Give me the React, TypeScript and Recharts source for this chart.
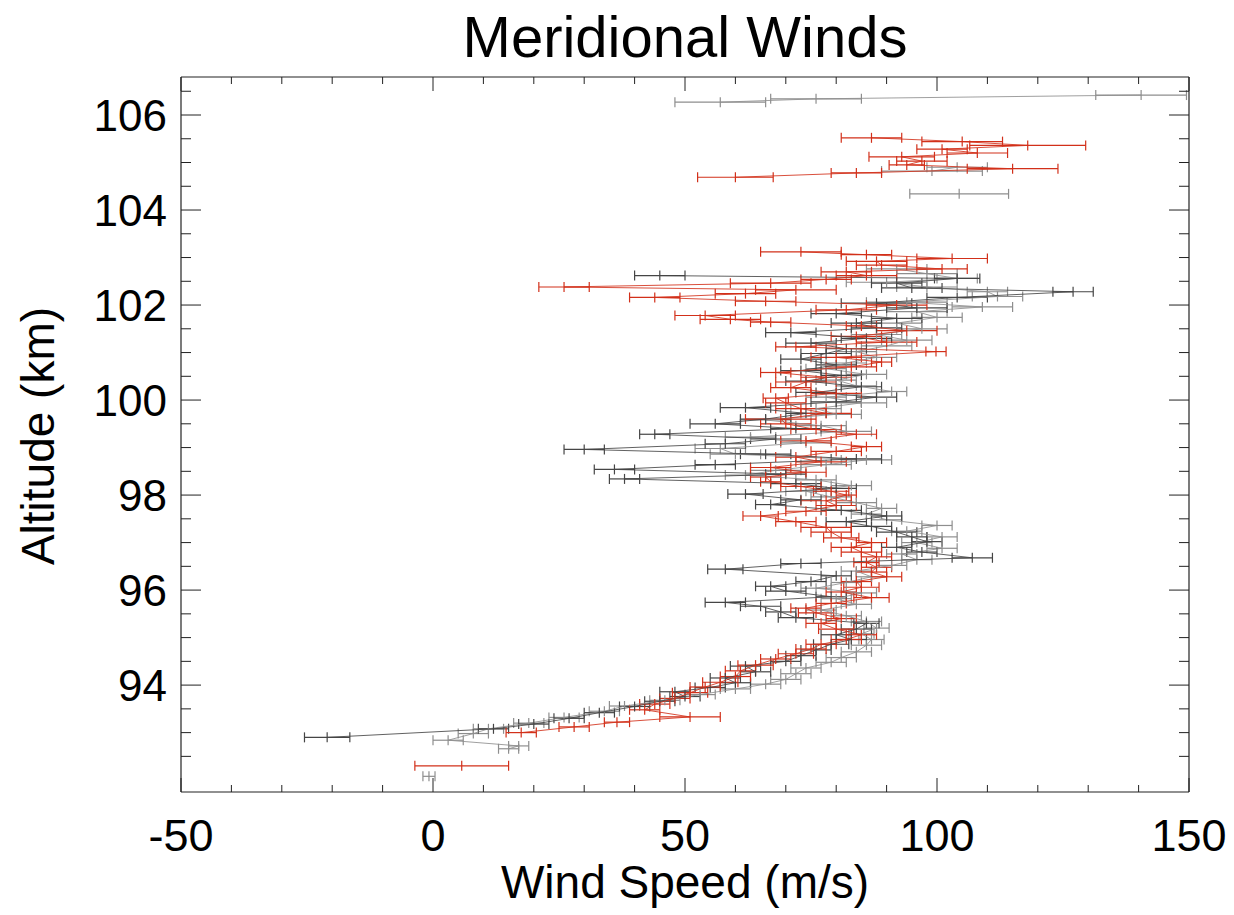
import React from 'react';
import { ScatterChart, Scatter, XAxis, YAxis, ErrorBar } from 'recharts';

// each row: [altitude (km), wind speed (m/s), error (m/s)]
const redLow = [[92.3, 5.7, 9.3]];
const redMain = [
  [93.0, 17.5, 3], [93.12, 28, 3], [93.22, 36.5, 2.5], [93.33, 51, 6], [93.48, 42, 3],
  [93.6, 44, 3], [93.72, 48, 3], [93.84, 51, 3.5], [93.96, 54, 3], [94.06, 57, 3.5],
  [94.18, 60, 3], [94.3, 61, 3], [94.42, 64, 3.5], [94.55, 68, 3], [94.66, 72, 3.5],
  [94.76, 75, 3], [94.86, 77, 3], [94.96, 82, 3], [95.06, 85, 3], [95.18, 80, 3.5],
  [95.3, 77, 3], [95.4, 81, 3], [95.52, 76, 3.5], [95.62, 74, 3], [95.72, 79, 3],
  [95.84, 87, 3.5], [95.96, 81, 3], [96.06, 85, 3.5], [96.18, 84, 3], [96.28, 90, 3],
  [96.38, 87, 3], [96.48, 88, 3], [96.58, 86, 2.5], [96.7, 88, 3], [96.8, 85, 4],
  [96.9, 83, 4], [97.0, 87, 3], [97.1, 81, 3.5], [97.22, 79, 4], [97.32, 78, 5],
  [97.44, 72, 4], [97.56, 65, 3.5], [97.66, 74, 4], [97.78, 80, 4], [97.88, 78, 5],
  [98.0, 82, 2], [98.08, 79, 3.5], [98.18, 73, 4], [98.28, 67, 2], [98.38, 66, 3],
  [98.48, 74, 4], [98.58, 67, 4], [98.7, 77, 5], [98.8, 72, 4], [98.92, 80, 5],
  [99.02, 86, 3], [99.14, 74, 5], [99.28, 84, 4], [99.38, 76, 5], [99.5, 70, 5],
  [99.6, 69, 7], [99.72, 78, 5], [99.82, 73, 5], [99.94, 70, 4], [100.04, 68, 2.5],
  [100.14, 80, 5], [100.26, 71, 4], [100.38, 74, 6], [100.48, 78, 5], [100.58, 68, 3],
  [100.7, 83, 5], [100.8, 89, 2], [100.9, 80, 5], [101.02, 99.8, 2], [101.12, 72, 4],
  [101.22, 90, 6], [101.34, 84, 5], [101.46, 94, 6], [101.56, 85, 3], [101.64, 67, 4],
  [101.7, 59, 6], [101.78, 54, 6], [101.9, 82, 6], [102.0, 92, 6], [102.08, 66, 6],
  [102.16, 44, 5], [102.24, 62, 6], [102.32, 72, 8], [102.38, 26, 5], [102.46, 67, 8],
  [102.54, 78, 5], [102.62, 86, 6], [102.7, 82, 5], [102.76, 101, 5], [102.84, 89, 5],
  [102.92, 88, 6], [102.98, 103, 7], [103.06, 86, 5], [103.12, 73, 8],
];
const redTop = [
  [104.69, 60, 7.5], [104.78, 84, 5], [104.87, 115, 9], [104.95, 94, 3.5], [105.03, 97, 5],
  [105.12, 93, 6.5], [105.2, 108, 6], [105.28, 101, 5], [105.36, 118, 11.5], [105.44, 105, 8],
  [105.52, 87, 6],
];
const darkMain = [
  [92.9, -21, 4.5], [93.08, 12, 3], [93.18, 20, 3], [93.3, 27, 3], [93.42, 33, 3],
  [93.55, 40, 3], [93.66, 45, 3], [93.76, 50, 3], [93.86, 48, 3], [93.95, 55, 3],
  [94.05, 60, 3], [94.15, 58, 3], [94.28, 64, 3], [94.4, 62, 3], [94.5, 70, 3],
  [94.62, 73, 3], [94.74, 76, 3], [94.86, 79, 3.5], [94.96, 83, 3], [95.06, 80, 3],
  [95.18, 84, 3], [95.3, 86, 2.5], [95.42, 72, 3.5], [95.54, 69, 3], [95.66, 65, 4],
  [95.74, 58, 4], [95.86, 79, 3], [95.98, 70, 4], [96.08, 67, 3], [96.18, 75, 3],
  [96.3, 80, 3], [96.44, 58, 3.5], [96.56, 73, 4], [96.68, 107, 4], [96.8, 97, 3],
  [96.9, 92, 3], [97.02, 98, 3], [97.12, 95, 3], [97.22, 92, 4], [97.34, 87, 4],
  [97.44, 82, 4], [97.56, 90, 3], [97.68, 81, 4], [97.8, 67, 3], [97.9, 73, 4],
  [98.02, 62, 3.5], [98.14, 80, 4], [98.24, 72, 5], [98.34, 38, 3], [98.44, 70, 4],
  [98.54, 36, 4], [98.64, 56, 4], [98.76, 84, 5], [98.86, 66, 5], [98.96, 30, 4],
  [99.08, 58, 4], [99.18, 68, 5], [99.28, 44, 3], [99.4, 72, 5], [99.5, 56, 5],
  [99.6, 66, 5], [99.72, 74, 4], [99.84, 62, 5], [99.96, 80, 5], [100.06, 88, 4],
  [100.16, 76, 4], [100.28, 85, 4], [100.4, 74, 4], [100.52, 81, 4], [100.62, 73, 4],
  [100.74, 80, 4], [100.86, 73, 4], [100.98, 78, 5], [101.08, 82, 4], [101.2, 75, 5],
  [101.3, 86, 5], [101.42, 71, 5], [101.52, 88, 5], [101.62, 84, 5], [101.72, 92, 5],
  [101.82, 80, 5], [101.94, 96, 6], [102.04, 88, 7], [102.16, 104, 6], [102.28, 127, 4],
  [102.36, 95, 6], [102.46, 92, 5], [102.56, 104, 4.5], [102.62, 45, 5],
];
const grayLow = [[92.08, -0.8, 1.2]];
const grayMain = [
  [92.66, 15, 2], [92.72, 17, 2], [92.84, 3, 3], [92.98, 8, 3], [93.08, 11, 3],
  [93.2, 19, 3], [93.32, 26, 3], [93.45, 34, 3], [93.56, 38, 3], [93.68, 46, 3],
  [93.8, 53, 3], [93.92, 60, 3], [94.02, 66, 3], [94.12, 70, 3], [94.24, 72, 3],
  [94.36, 74, 3], [94.48, 79, 3], [94.58, 81, 3], [94.7, 84, 3], [94.84, 86, 3],
  [94.96, 87, 2.5], [95.08, 85, 2.5], [95.2, 88, 2.5], [95.34, 86, 3], [95.46, 82, 3],
  [95.58, 77, 3], [95.7, 84, 3], [95.82, 80, 3], [95.94, 85, 3], [96.04, 76, 3],
  [96.16, 82, 3], [96.28, 87, 3], [96.4, 84, 3], [96.52, 91, 3], [96.64, 96, 3],
  [96.76, 93, 3], [96.88, 101, 3], [97.0, 96, 3], [97.12, 101, 3], [97.24, 94, 3],
  [97.36, 100, 3], [97.48, 90, 3], [97.6, 86, 3], [97.72, 89, 3], [97.84, 84, 4],
  [97.96, 79, 4], [98.08, 74, 4], [98.2, 83, 4], [98.32, 76, 4], [98.42, 62, 4],
  [98.52, 68, 5], [98.64, 78, 5], [98.74, 86, 5], [98.86, 60, 5], [98.98, 57, 5],
  [99.1, 74, 5], [99.22, 63, 5], [99.34, 82, 5], [99.46, 77, 5], [99.58, 66, 5],
  [99.7, 80, 5], [99.82, 76, 5], [99.94, 85, 5], [100.06, 78, 4], [100.18, 91, 3],
  [100.3, 84, 4], [100.42, 80, 4], [100.54, 86, 4], [100.66, 78, 4], [100.78, 82, 4],
  [100.9, 88, 4], [101.02, 84, 4], [101.14, 90, 5], [101.26, 94, 5], [101.38, 88, 5],
  [101.5, 97, 5], [101.62, 92, 5], [101.74, 100, 5], [101.86, 96, 6], [101.96, 109, 6],
  [102.06, 94, 8], [102.18, 112, 5], [102.28, 110, 4], [102.38, 98, 6], [102.48, 90, 8],
  [102.56, 104, 4], [102.66, 98, 6], [102.76, 92, 6],
];
const grayMid = [[104.34, 104.4, 9.8]];
const grayUpper = [[104.82, 99, 10], [104.9, 104, 6]];
const grayTop = [[106.27, 57, 9], [106.34, 76, 9], [106.42, 140.5, 9]];

const xTicks = [-50, -40, -30, -20, -10, 0, 10, 20, 30, 40, 50, 60, 70, 80, 90, 100, 110, 120, 130, 140, 150];
const yTicks = [92.5, 93, 93.5, 94, 94.5, 95, 95.5, 96, 96.5, 97, 97.5, 98, 98.5, 99, 99.5, 100, 100.5, 101, 101.5, 102, 102.5, 103, 103.5, 104, 104.5, 105, 105.5, 106, 106.5];

const RED = '#d2301a';
const DARK = '#454545';
const LIGHT = '#8e8e8e';
const AXIS = '#222';
const FONT = '"Liberation Sans", Arial, Helvetica, sans-serif';

const toPoints = (rows: number[][]) => rows.map(([alt, wind, err]) => ({ alt, wind, err }));

const isMajorX = (v: number) => v % 50 === 0;
const isMajorY = (v: number) => v % 2 === 0;

const BottomTick = (props: any) => {
  const { x, y, payload } = props;
  const major = isMajorX(payload.value);
  return (
    <g>
      <line x1={x} y1={y} x2={x} y2={y - (major ? 14 : 7)} stroke={AXIS} strokeWidth={1} />
      {major && (
        <text x={x} y={y + 59} textAnchor="middle" fontSize={45} fontFamily={FONT} fill="#000">
          {String(payload.value)}
        </text>
      )}
    </g>
  );
};

const TopTick = (props: any) => {
  const { x, y, payload } = props;
  const major = isMajorX(payload.value);
  return <line x1={x} y1={y} x2={x} y2={y + (major ? 14 : 7)} stroke={AXIS} strokeWidth={1} />;
};

const LeftTick = (props: any) => {
  const { x, y, payload } = props;
  const major = isMajorY(payload.value);
  return (
    <g>
      <line x1={x} y1={y} x2={x + (major ? 20 : 10)} y2={y} stroke={AXIS} strokeWidth={1} />
      {major && (
        <text x={x - 14} y={y + 16} textAnchor="end" fontSize={44} fontFamily={FONT} fill="#000">
          {String(payload.value)}
        </text>
      )}
    </g>
  );
};

const RightTick = (props: any) => {
  const { x, y, payload } = props;
  const major = isMajorY(payload.value);
  return <line x1={x} y1={y} x2={x - (major ? 20 : 10)} y2={y} stroke={AXIS} strokeWidth={1} />;
};

const tickMark = (color: string) => (props: any) => {
  const { cx, cy } = props;
  return <line x1={cx} y1={cy - 5} x2={cx} y2={cy + 5} stroke={color} strokeWidth={1.2} />;
};

const series = [
  { name: 'grayLow', rows: grayLow, color: LIGHT },
  { name: 'grayMain', rows: grayMain, color: LIGHT },
  { name: 'grayMid', rows: grayMid, color: LIGHT },
  { name: 'grayUpper', rows: grayUpper, color: LIGHT },
  { name: 'grayTop', rows: grayTop, color: LIGHT },
  { name: 'darkMain', rows: darkMain, color: DARK },
  { name: 'redLow', rows: redLow, color: RED },
  { name: 'redMain', rows: redMain, color: RED },
  { name: 'redTop', rows: redTop, color: RED },
];

export default function App() {
  return (
    <div style={{ position: 'absolute', left: 0, top: 0, width: 1234, height: 915, background: '#fff', fontFamily: FONT }}>
      <div style={{ position: 'absolute', left: 0, width: 1370, top: 8, textAlign: 'center', fontSize: 58, lineHeight: '58px', color: '#000' }}>
        Meridional Winds
      </div>
      <div
        style={{
          position: 'absolute', left: 38, top: 436, fontSize: 46, lineHeight: '46px', color: '#000',
          whiteSpace: 'nowrap', transform: 'translate(-50%, -50%) rotate(-90deg)',
        }}
      >
        Altitude (km)
      </div>
      <div style={{ position: 'absolute', left: 0, width: 1370, top: 859, textAlign: 'center', fontSize: 46, lineHeight: '46px', color: '#000' }}>
        Wind Speed (m/s)
      </div>
      <ScatterChart width={1234} height={915} margin={{ top: 76, right: 44, bottom: 0, left: 0 }}>
        <XAxis
          xAxisId="bottom" type="number" dataKey="wind" domain={[-50, 150]} allowDataOverflow
          ticks={xTicks} interval={0} height={123} tickLine={false} tickSize={0} tickMargin={0}
          axisLine={{ stroke: AXIS, strokeWidth: 1.2 }} tick={<BottomTick />}
        />
        <XAxis
          xAxisId="top" orientation="top" type="number" dataKey="wind" domain={[-50, 150]} allowDataOverflow
          ticks={xTicks} interval={0} height={1} tickLine={false} tickSize={0} tickMargin={0}
          axisLine={{ stroke: AXIS, strokeWidth: 1.2 }} tick={<TopTick />}
        />
        <YAxis
          yAxisId="left" type="number" dataKey="alt" domain={[91.75, 106.8]} allowDataOverflow
          ticks={yTicks} interval={0} width={181} tickLine={false} tickSize={0} tickMargin={0}
          axisLine={{ stroke: AXIS, strokeWidth: 1.2 }} tick={<LeftTick />}
        />
        <YAxis
          yAxisId="right" orientation="right" type="number" dataKey="alt" domain={[91.75, 106.8]} allowDataOverflow
          ticks={yTicks} interval={0} width={1} tickLine={false} tickSize={0} tickMargin={0}
          axisLine={{ stroke: AXIS, strokeWidth: 1.2 }} tick={<RightTick />}
        />
        {series.map((s) => (
          <Scatter
            key={s.name}
            xAxisId="bottom"
            yAxisId="left"
            data={toPoints(s.rows)}
            line={{ stroke: s.color, strokeWidth: 1, strokeOpacity: 0.85 }}
            shape={tickMark(s.color)}
            isAnimationActive={false}
          >
            <ErrorBar dataKey="err" direction="x" width={5} stroke={s.color} strokeWidth={1.2} isAnimationActive={false} />
          </Scatter>
        ))}
      </ScatterChart>
    </div>
  );
}
